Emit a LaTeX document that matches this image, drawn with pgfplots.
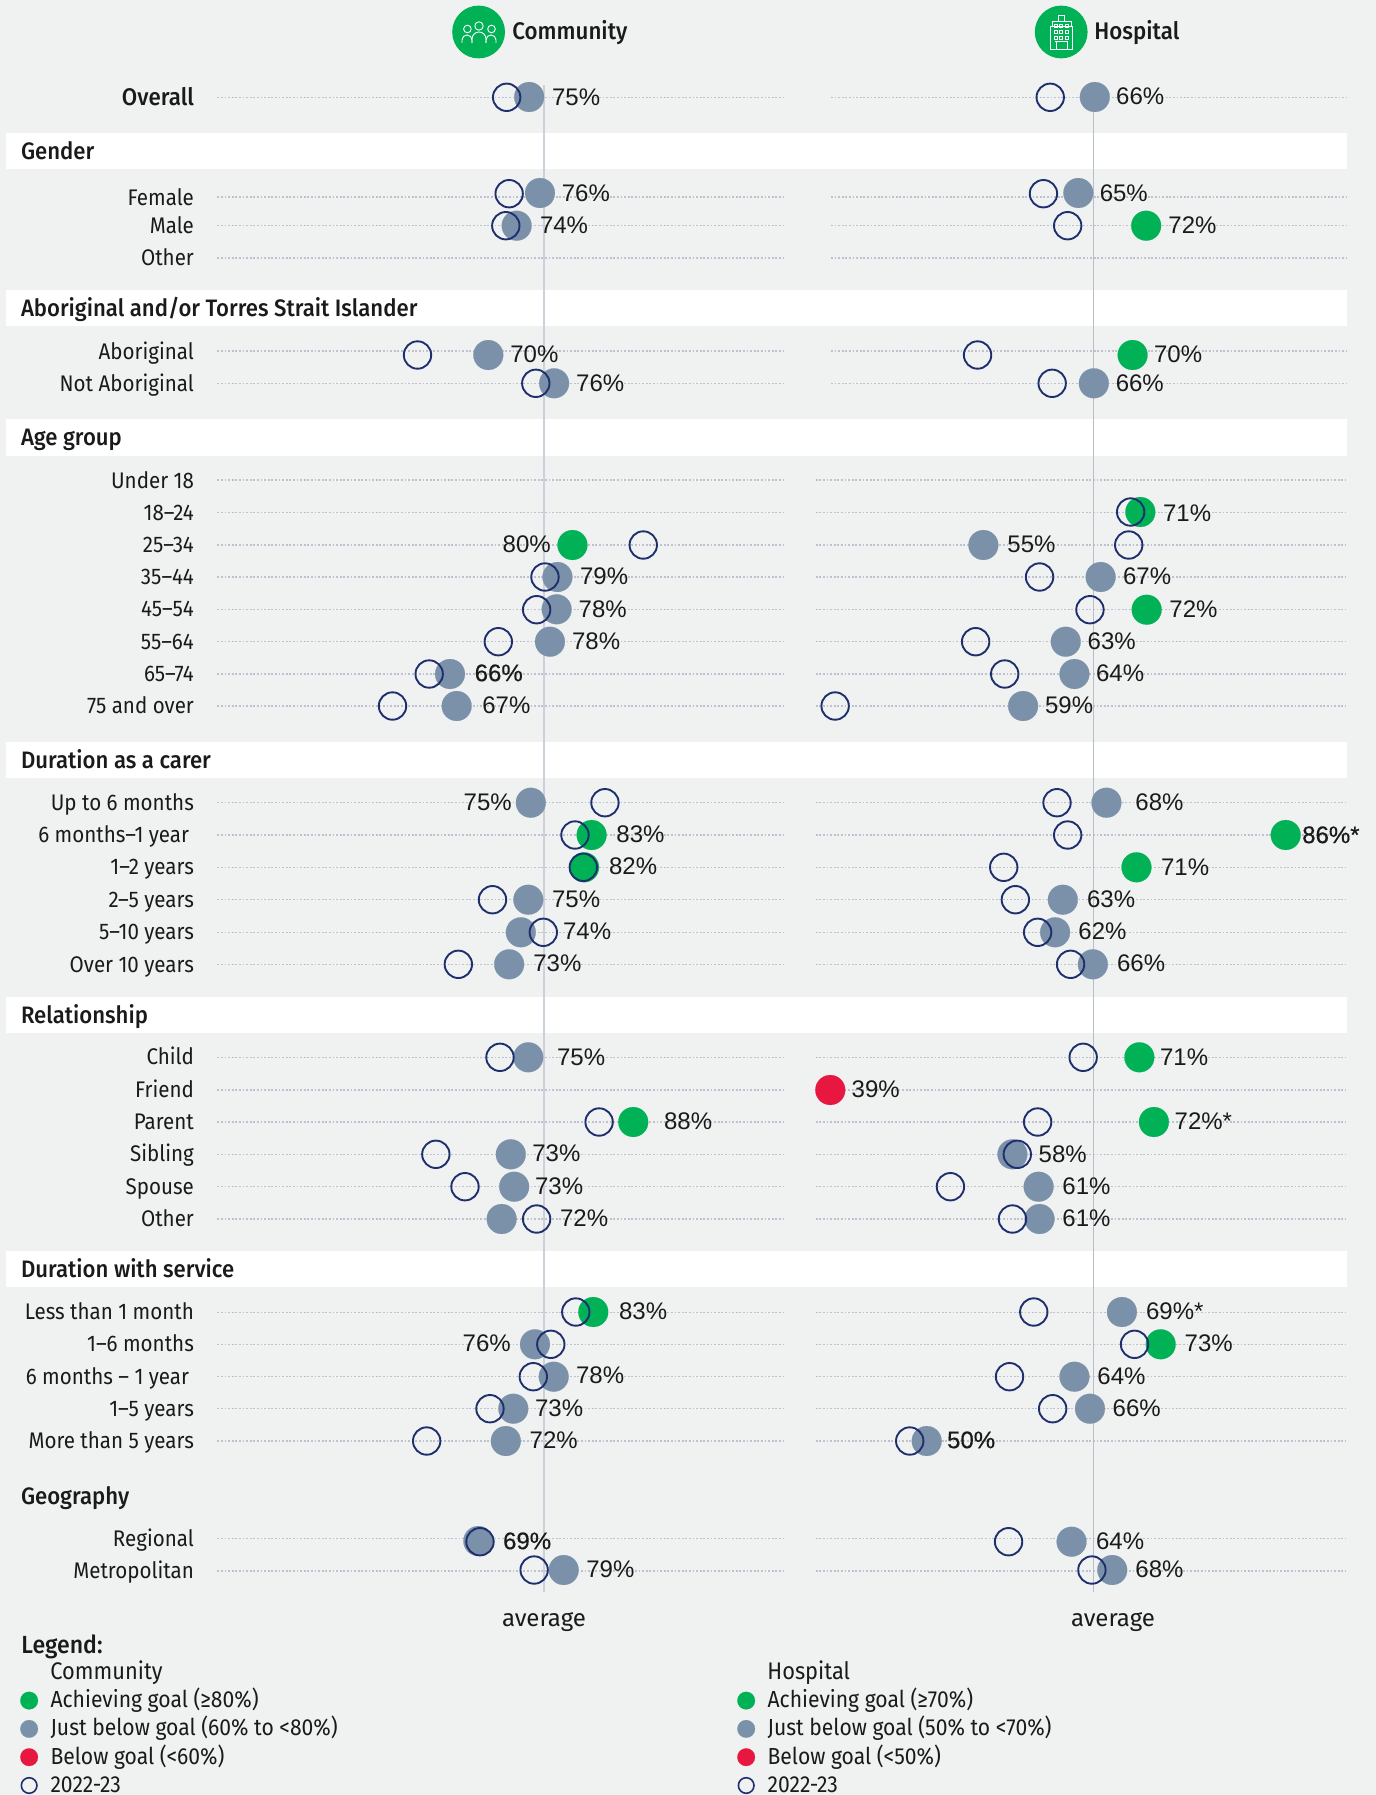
\documentclass[border=0pt]{standalone}
\usepackage{pgfplots}
\usepackage{pgfplotstable}
\usepackage{fontspec}
\pgfplotsset{compat=1.18}
\setmainfont[FakeStretch=0.91]{Fira Sans}
\newfontfamily\med[FakeStretch=0.93]{Fira Sans Medium}
\newfontfamily\avg{Fira Sans}
\newfontfamily\vf{Liberation Sans}
\newfontfamily\vb[FakeBold=0.5]{Liberation Sans}
\definecolor{bg}{HTML}{F0F2F1}
\definecolor{slate}{HTML}{7B91A9}
\definecolor{goal}{HTML}{00B156}
\definecolor{lowc}{HTML}{E8173F}
\definecolor{navy}{HTML}{1F2F6E}
\definecolor{dots}{HTML}{BFC2CE}
\definecolor{txt}{HTML}{1A1A1A}
\definecolor{avgC}{HTML}{CDD0DB}
\definecolor{avgH}{HTML}{B9BDC9}
% x = satisfaction (%), y = row position on the page (full-size px, growing downward)
\pgfplotstableread{
x y
80.7 545
83.0 835
82.1 867.3
88.0 1122
83.2 1312
}\Cgreen
\pgfplotstableread{
x y
75.5 97
76.8 193
74.0 225.7
70.6 355
78.5 383.3
78.9 577
78.8 609.3
78.0 641.7
66.0 674
66.8 706
75.7 802.7
75.4 899.7
74.5 932.3
73.1 964.3
75.4 1057.3
73.3 1154.3
73.7 1186.7
72.2 1219
76.2 1344.3
78.45 1376.7
73.6 1408.7
72.7 1441
69.4 1541
79.65 1570
}\Cslate
\pgfplotstableread{
x y
72.8 97.3
73.1 193.7
72.7 225.7
62.1 355
76.3 383.3
89.2 545
77.4 577
76.4 609.7
71.8 641.7
63.5 674
59.1 706
84.6 802.7
81.0 835
82.0 867.3
71.1 899.7
77.2 932.3
67.0 964.3
72.0 1057.3
83.9 1122
64.3 1154.3
67.8 1186.7
76.4 1219
81.1 1312
78.1 1344.3
76.0 1376.7
70.8 1408.7
63.2 1441
69.6 1541.7
76.1 1570
}\Copen
\pgfplotstableread{
x y
71.6 225.7
70.2 355
71.0 512
71.65 609.7
86.0 835
70.6 867.3
70.9 1057.3
72.4 1122
73.1 1344.3
}\Hgreen
\pgfplotstableread{
x y
66.3 97
64.6 193
66.2 383.3
54.8 545
66.9 577
63.3 641.7
64.2 674
58.9 706
67.5 802.7
63.0 899.7
62.2 932.3
66.1 964.3
57.8 1154.3
60.5 1186.7
60.6 1219
69.1 1312
64.2 1376.7
65.8 1408.7
48.95 1441
63.9 1541.7
68.1 1570
}\Hslate
\pgfplotstableread{
x y
39.0 1090
}\Hred
\pgfplotstableread{
x y
61.7 97.3
61.0 193.7
63.5 225.7
54.2 355
61.9 383.3
70.0 512
69.8 545
60.6 577
65.8 609.7
54.0 641.7
57.0 674
39.5 706
62.4 802.7
63.5 835
56.9 867.3
58.1 899.7
60.4 932.3
63.8 964.3
65.1 1057.3
60.4 1122
58.3 1154.3
51.4 1186.7
57.8 1219
60.0 1312
70.4 1344.3
57.5 1376.7
61.95 1408.7
47.2 1441
57.4 1541.7
66.0 1570
}\Hopen
\pgfplotsset{
  panel/.style={at={(0,0)},anchor=south west,width=688pt,height=897.5pt,scale only axis,hide axis,
    ymin=0,ymax=1795,y dir=reverse,clip=false,
    legend cell align=left,
    legend image code/.code={\draw[##1] plot coordinates {(0pt,0.2pt)};},
    legend style={draw=none,fill=none,inner sep=0pt,row sep=2.65pt,font=\fontsize{11.6}{13}\selectfont\color{txt},
      nodes={inner sep=0pt,text height=9pt,text depth=2.5pt},
      /tikz/every odd column/.append style={column sep=6.3pt}}},
  rowline/.style={forget plot,line width=0.55pt,color=dots,dash pattern=on 0.9pt off 0.9pt},
  fullc/.style={only marks,forget plot,mark=*,mark size=7.45pt,mark options={draw=#1,fill=#1,line width=0.1pt}},
  openc/.style={only marks,forget plot,mark=o,mark size=6.85pt,mark options={draw=navy,line width=0.95pt}},
  keyc/.style={only marks,mark=*,mark size=4.4pt,mark options={draw=#1,fill=#1,line width=0.1pt}},
  keyo/.style={only marks,mark=o,mark size=3.9pt,mark options={draw=navy,line width=0.8pt}},
}
\newcommand\rC[1]{\addplot[rowline] coordinates {(38.08,#1)(106.1,#1)};}
\newcommand\rH[1]{\addplot[rowline] coordinates {(39.07,#1)(92.27,#1)};}
\newcommand\rHw[1]{\addplot[rowline] coordinates {(37.5,#1)(92.27,#1)};}
\newcommand\val[3]{\node[anchor=base west,inner sep=0pt] at ({#1-1},{#2+8.5}) {\fontsize{12}{14}\selectfont\vf #3};}
\newcommand\cat[2]{\node[anchor=base east,inner sep=0pt] at (194.3,{#1+8.5}) {#2};}
\newcommand\catb[2]{\node[anchor=base east,inner sep=0pt] at (189.5,{#1+8.5}) {#2};}
\newcommand\hd[2]{\node[anchor=base west,inner sep=0pt] at (20.6,{#1+9}) {\fontsize{11.9}{14}\selectfont\med #2};}
\begin{document}
\begin{tikzpicture}[font=\fontsize{11.3}{14}\selectfont\color{txt}]
\path[use as bounding box,fill=bg] (0,0) rectangle (688pt,897.5pt);
\begin{scope}[x=0.5pt,y=-0.5pt,shift={(0pt,897.5pt)}]
\foreach \a/\b in {133/169,290/326,419/455.6,741.7/777.7,997/1033,1250.7/1287}
  \fill[white] (6,\a) rectangle (1347,\b);
\end{scope}
% Community
\begin{axis}[panel,xmin=11.98,xmax=177.16,
  legend style={at={(axis description cs:0.0145,0.0590)},anchor=north west}]
\foreach \y in {97.3,197,225.7,258,351,383.3,480,512.3,545,577,609.3,641.7,674,706,802.7,835,867.3,899.7,932.3,964.3,1057.3,1090,1122,1154.3,1186.7,1219,1312.3,1344.3,1376.7,1408.7,1441,1538.7,1571}{\edef\tmp{\noexpand\rC{\y}}\tmp}
\addplot[forget plot,line width=1pt,color=avgC] coordinates {(77.3,85)(77.3,1591.7)};
\addplot[fullc=goal] table {\Cgreen};
\addplot[fullc=slate] table {\Cslate};
\addplot[openc] table {\Copen};
\addlegendimage{keyc=goal}\addlegendentry{Achieving goal (≥80\%)}
\addlegendimage{keyc=slate}\addlegendentry{Just below goal (60\% to <80\%)}
\addlegendimage{keyc=lowc}\addlegendentry{Below goal (<60\%)}
\addlegendimage{keyo}\addlegendentry{2022-23}
\end{axis}
% Hospital
\begin{axis}[panel,xmin=-46.69,xmax=95.32,
  legend style={at={(axis description cs:0.5356,0.0590)},anchor=north west}]
\foreach \y in {97.3,197,225.7,258,351,383.3}{\edef\tmp{\noexpand\rH{\y}}\tmp}
\foreach \y in {480,512.3,545,577,609.3,641.7,674,706,802.7,835,867.3,899.7,932.3,964.3,1057.3,1090,1122,1154.3,1186.7,1219,1312.3,1344.3,1376.7,1408.7,1441,1538.7,1571}{\edef\tmp{\noexpand\rHw{\y}}\tmp}
\addplot[forget plot,line width=0.55pt,color=avgH] coordinates {(66.2,112)(66.2,1591.7)};
\addplot[fullc=goal] table {\Hgreen};
\addplot[fullc=slate] table {\Hslate};
\addplot[fullc=lowc] table {\Hred};
\addplot[openc] table {\Hopen};
\addlegendimage{keyc=goal}\addlegendentry{Achieving goal (≥70\%)}
\addlegendimage{keyc=slate}\addlegendentry{Just below goal (50\% to <70\%)}
\addlegendimage{keyc=lowc}\addlegendentry{Below goal (<50\%)}
\addlegendimage{keyo}\addlegendentry{2022-23}
\end{axis}
\begin{scope}[x=0.5pt,y=-0.5pt,shift={(0pt,897.5pt)}]
% header icons
\fill[goal] (478.6,32) circle[radius=26.4];
\fill[goal] (1061.2,32) circle[radius=26.4];
\begin{scope}[white,line width=0.45pt]
\draw (467.4,29) circle[radius=3.8];
\draw (479,26) circle[radius=4.2];
\draw (491.5,29) circle[radius=3.8];
\draw (462,43) -- (462,40) arc[start angle=180,end angle=360,x radius=5,y radius=5] -- (472,43);
\draw (472,43) -- (472,39) arc[start angle=180,end angle=360,x radius=7,y radius=7] -- (486,43);
\draw (486,43) -- (486,40) arc[start angle=180,end angle=360,x radius=5,y radius=5] -- (496,43);
\draw (1050.4,49.3) rectangle (1072.8,26);
\draw (1052,26) rectangle (1071,21) (1058,21) rectangle (1064.6,15);
\foreach \cx in {1054,1059.5,1065}{\foreach \cy in {24,30,36}{\draw (\cx,\cy) rectangle ++(3.4,3);}}
\draw (1056,49.3) -- (1056,41) -- (1067,41) -- (1067,49.3) (1055,41) -- (1068,41);
\end{scope}
\node[anchor=base west,inner sep=0pt] at (512,40) {\fontsize{12}{14}\selectfont\med Community};
\node[anchor=base west,inner sep=0pt] at (1094,40) {\fontsize{12}{14}\selectfont\med Hospital};
% categories
\node[anchor=base east,inner sep=0pt] at (194.3,106) {\fontsize{12}{14}\selectfont\med Overall};
\cat{197}{Female}\cat{225}{Male}\cat{257}{Other}
\cat{351}{Aboriginal}\cat{383}{Not Aboriginal}
\cat{480}{Under 18}\cat{512}{18–24}\cat{544}{25–34}\cat{576}{35–44}\cat{608.5}{45–54}\cat{641}{55–64}\cat{673}{65–74}\cat{705.5}{75 and over}
\cat{802}{Up to 6 months}\catb{834.5}{6 months–1 year}\cat{866.5}{1–2 years}\cat{899}{2–5 years}\cat{931.5}{5–10 years}\cat{964}{Over 10 years}
\cat{1056.5}{Child}\cat{1089}{Friend}\cat{1121}{Parent}\cat{1153.5}{Sibling}\cat{1186}{Spouse}\cat{1218}{Other}
\cat{1311}{Less than 1 month}\cat{1343.5}{1–6 months}\catb{1376}{6 months – 1 year}\cat{1408}{1–5 years}\cat{1440}{More than 5 years}
\cat{1538}{Regional}\cat{1570.5}{Metropolitan}
% section titles
\hd{151}{Gender}\hd{308}{Aboriginal and/or Torres Strait Islander}\hd{437}{Age group}\hd{759.7}{Duration as a carer}\hd{1015}{Relationship}\hd{1269}{Duration with service}\hd{1496}{Geography}
% community values
\val{552.7}{97}{75\%}\val{562.5}{192.7}{76\%}\val{540.6}{224.7}{74\%}\val{511}{354}{70\%}\val{576.8}{382.7}{76\%}
\val{503.3}{543.7}{80\%}\val{580.7}{576}{79\%}\val{579.3}{608.7}{78\%}\val{572.7}{641}{78\%}
\val{475.3}{672.7}{\vb 66\%}\val{483}{704.7}{67\%}
\val{464.3}{802}{75\%}\val{617}{833.7}{83\%}\val{609.7}{866}{82\%}\val{552.7}{898.7}{75\%}\val{563.7}{931}{74\%}\val{534}{963}{73\%}
\val{557.7}{1056.7}{75\%}\val{664.7}{1120.7}{88\%}\val{533}{1152.7}{73\%}\val{535.7}{1186}{73\%}\val{560.7}{1217.7}{72\%}
\val{619.7}{1310.7}{83\%}\val{463.3}{1342.7}{76\%}\val{576.7}{1375}{78\%}\val{535.7}{1407.7}{73\%}\val{530.3}{1439.7}{72\%}
\val{503.7}{1540.7}{\vb 69\%}\val{587}{1568.7}{79\%}
% hospital values
\val{1116.8}{96}{66\%}\val{1100.4}{192.7}{65\%}\val{1169}{224.7}{72\%}\val{1154.7}{353.7}{70\%}\val{1116.4}{382.7}{66\%}
\val{1163.7}{513.3}{71\%}\val{1008}{543.7}{55\%}\val{1123.7}{576}{67\%}\val{1170}{608.7}{72\%}\val{1088.3}{641}{63\%}\val{1096.7}{672.7}{64\%}\val{1045.7}{704.7}{59\%}
\val{1136}{802}{68\%}\val{1302.8}{834.6}{\vb 86\%*}\val{1161.7}{866.7}{71\%}\val{1087.7}{898.7}{63\%}\val{1079}{931}{62\%}\val{1117.7}{963}{66\%}
\val{1160.7}{1056.7}{71\%}\val{852.3}{1089}{39\%}\val{1175.3}{1120.7}{72\%*}\val{1039.3}{1154}{58\%}\val{1063}{1186}{61\%}\val{1063}{1217.7}{61\%}
\val{1146.7}{1311}{69\%*}\val{1185.3}{1343.3}{73\%}\val{1098}{1375.7}{64\%}\val{1113.3}{1408}{66\%}\val{947.7}{1439.7}{\vb 50\%}
\val{1096.7}{1540.7}{64\%}\val{1136}{1568.7}{68\%}
% below the plot
\node[anchor=base,inner sep=0pt] at (544,1627) {\fontsize{12}{14}\selectfont\avg average};
\node[anchor=base,inner sep=0pt] at (1113,1627) {\fontsize{12}{14}\selectfont\avg average};
\node[anchor=base west,inner sep=0pt] at (21,1654) {\fontsize{12.4}{14}\selectfont\med Legend:};
\node[anchor=base west,inner sep=0pt] at (50,1680) {\fontsize{12}{14}\selectfont Community};
\node[anchor=base west,inner sep=0pt] at (767,1680) {\fontsize{12}{14}\selectfont Hospital};
\end{scope}
\end{tikzpicture}
\end{document}
